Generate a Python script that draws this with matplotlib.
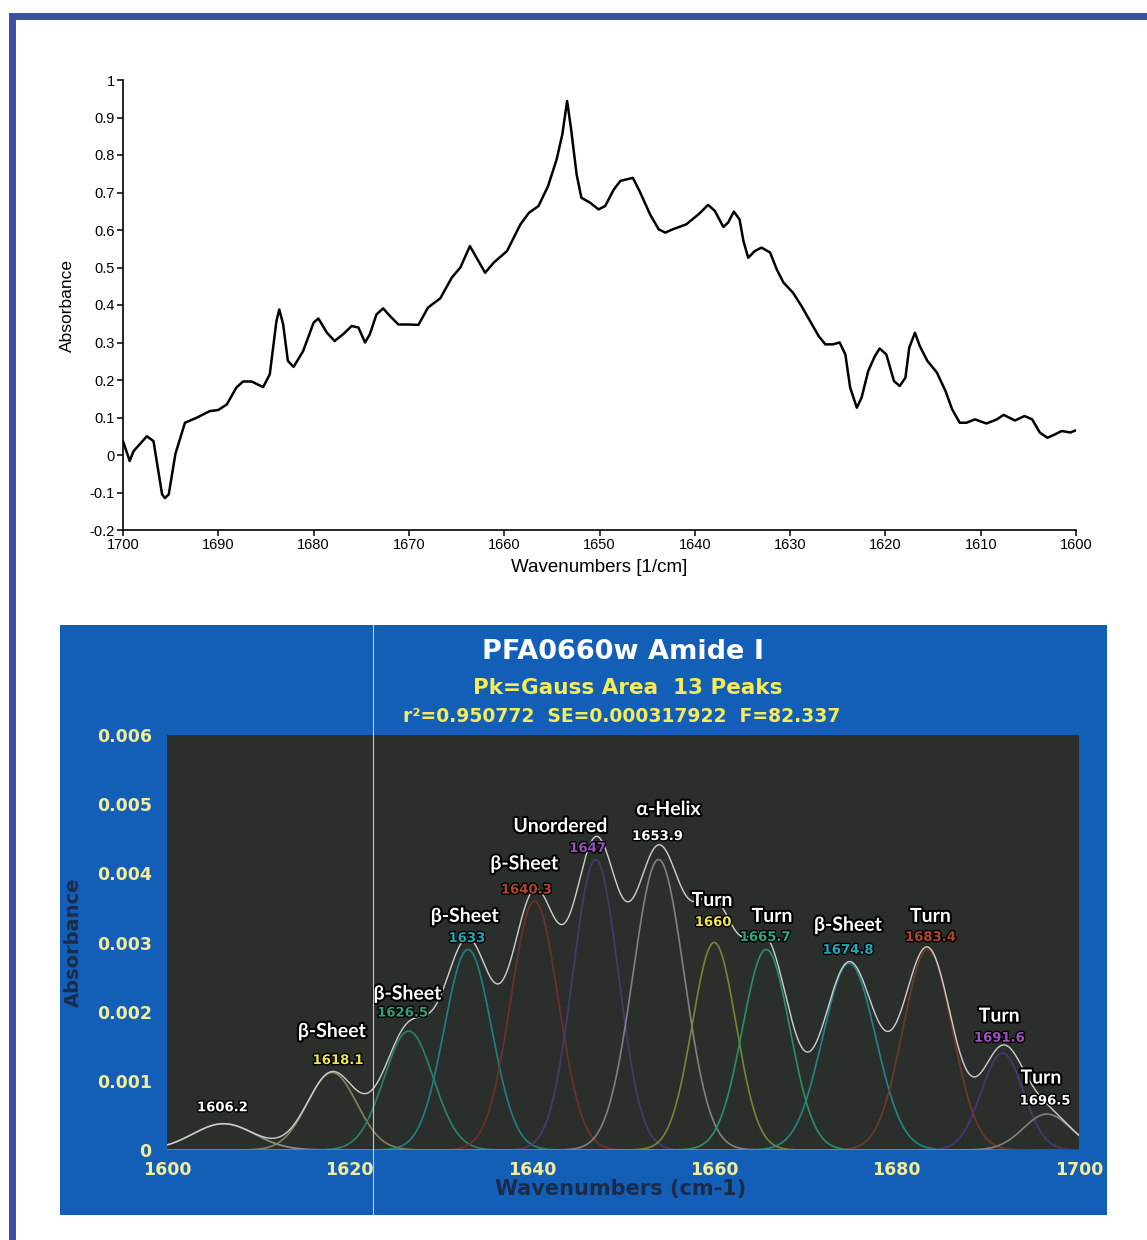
import numpy as np
import matplotlib
matplotlib.use('Agg')
import matplotlib.pyplot as plt
import matplotlib.patheffects as pe
from matplotlib.patches import Rectangle
from matplotlib.lines import Line2D
from matplotlib.ticker import FuncFormatter

# --- measured amide I spectrum ---
wavenumber = [1700.0, 1699.3, 1698.9, 1697.5, 1696.8, 1695.9, 1695.6, 1695.2, 1694.5, 1693.5,
              1692.3, 1690.9, 1690.0, 1689.1, 1688.1, 1687.4, 1686.5, 1685.3, 1684.6, 1683.9,
              1683.6, 1683.2, 1682.7, 1682.1, 1681.1, 1680.0, 1679.5, 1678.6, 1677.8, 1676.9,
              1676.0, 1675.3, 1674.6, 1674.1, 1673.4, 1672.7, 1672.0, 1671.1, 1670.1, 1669.0,
              1668.0, 1666.7, 1665.5, 1664.6, 1663.6, 1662.9, 1662.0, 1661.1, 1659.7, 1658.3,
              1657.4, 1656.4, 1655.4, 1654.5, 1653.9, 1653.4, 1653.0, 1652.4, 1651.9, 1651.0,
              1650.1, 1649.4, 1648.5, 1647.8, 1646.5, 1645.8, 1644.7, 1643.8, 1643.1, 1642.3,
              1640.9, 1639.6, 1638.6, 1637.9, 1637.0, 1636.5, 1635.9, 1635.3, 1634.9, 1634.4,
              1633.7, 1633.0, 1632.1, 1631.4, 1630.7, 1629.7, 1628.8, 1627.9, 1627.0, 1626.3,
              1625.5, 1624.8, 1624.2, 1623.7, 1623.0, 1622.5, 1621.8, 1621.1, 1620.6, 1619.9,
              1619.1, 1618.5, 1617.9, 1617.5, 1616.9, 1616.4, 1615.6, 1614.6, 1613.7, 1613.0,
              1612.2, 1611.5, 1610.6, 1609.4, 1608.3, 1607.6, 1606.4, 1605.4, 1604.6, 1603.8,
              1603.0, 1602.2, 1601.5, 1600.6, 1600.0]
absorbance = [0.037, -0.016, 0.010, 0.050, 0.037, -0.105, -0.115, -0.105, 0.003, 0.086,
              0.099, 0.117, 0.120, 0.135, 0.180, 0.196, 0.196, 0.181, 0.215, 0.357,
              0.388, 0.349, 0.251, 0.235, 0.277, 0.353, 0.364, 0.326, 0.304, 0.322,
              0.344, 0.340, 0.300, 0.322, 0.375, 0.391, 0.371, 0.348, 0.348, 0.347,
              0.393, 0.418, 0.473, 0.500, 0.557, 0.526, 0.486, 0.513, 0.544, 0.615,
              0.646, 0.664, 0.717, 0.788, 0.855, 0.944, 0.873, 0.748, 0.686, 0.673,
              0.655, 0.664, 0.708, 0.731, 0.739, 0.704, 0.642, 0.602, 0.593, 0.602,
              0.615, 0.642, 0.667, 0.651, 0.608, 0.620, 0.649, 0.628, 0.571, 0.526,
              0.544, 0.553, 0.540, 0.495, 0.460, 0.433, 0.397, 0.357, 0.317, 0.295,
              0.295, 0.300, 0.268, 0.180, 0.126, 0.153, 0.224, 0.264, 0.284, 0.268,
              0.197, 0.184, 0.206, 0.286, 0.326, 0.291, 0.251, 0.220, 0.171, 0.122,
              0.086, 0.086, 0.095, 0.084, 0.095, 0.107, 0.092, 0.104, 0.095, 0.060,
              0.046, 0.055, 0.064, 0.060, 0.066]

# --- Gaussian peak fit (13 components) ---
peak_center = [1606.2, 1618.1, 1626.5, 1633.0, 1640.3, 1647.0, 1653.9,
               1660.0, 1665.7, 1674.8, 1683.4, 1691.6, 1696.5]
peak_height = [0.00038, 0.00112, 0.00172, 0.00290, 0.00360, 0.00420, 0.00420,
               0.00300, 0.00290, 0.00270, 0.00290, 0.00140, 0.00052]
peak_sigma = [3.4, 2.7, 2.7, 2.6, 2.6, 2.5, 2.8, 2.4, 2.6, 2.9, 2.7, 2.3, 2.6]
peak_assign = ['', 'β-Sheet', 'β-Sheet', 'β-Sheet', 'β-Sheet', 'Unordered', 'α-Helix',
               'Turn', 'Turn', 'β-Sheet', 'Turn', 'Turn', 'Turn']

fit_title = 'PFA0660w Amide I'
fit_subtitle = 'Pk=Gauss Area  13 Peaks'
fit_stats = 'r²=0.950772  SE=0.000317922  F=82.337'

# label styling per peak (pixel offsets from the peak top)
curve_colors = ['#9a9a9a', '#8c8c66', '#2e8b6e', '#1f8a8a', '#7a2e2a', '#4b3a7a', '#8a8a8a',
                '#7f8f3a', '#2e9a6a', '#1f8f8f', '#7a3a2a', '#4a3a80', '#8a8a8a']
num_colors = ['white', '#f0e650', '#2fa37a', '#22a6b6', '#b0452e', '#9650b8', 'white',
              '#f0e650', '#2aa884', '#22aabb', '#b5452e', '#a050c0', 'white']
name_off = [(0, 0), (0, 41), (-1, 37), (-3, 33), (-10, 37), (-35, 33), (10, 50),
            (-2, 42), (6, 33), (-1, 38), (3, 33), (-3, 37), (-6, 36)]
num_off = [(-1, 16), (6, 12), (-6, 18), (-1, 11), (-8, 11), (-8, 11), (-1, 23),
           (-1, 20), (-1, 12), (-1, 13), (3, 12), (-3, 15), (-2, 13)]

W, H = 1147, 1240


def fig_rect(x0, y0, x1, y1):
    # pixel box measured from the top-left corner -> figure fraction rect
    return [x0 / W, 1 - y1 / H, (x1 - x0) / W, (y1 - y0) / H]


fig = plt.figure(figsize=(W / 100, H / 100), dpi=100)
fig.patch.set_facecolor('white')

# outer frame
fig.add_artist(Rectangle((11.5 / W, -0.1), 1.2, 1.1 - 16 / H, transform=fig.transFigure,
                         fill=False, ec='#3c50a0', lw=5, zorder=20))

# ---------- top: raw spectrum ----------
ax1 = fig.add_axes(fig_rect(123, 80, 1076, 530))
ax1.plot(wavenumber, absorbance, color='black', lw=1.8,
         solid_joinstyle='round', solid_capstyle='round')
ax1.set_xlim(1700, 1600)
ax1.set_ylim(-0.2, 1.0)
ax1.set_xticks(np.arange(1700, 1599, -10))
ax1.set_yticks(np.round(np.arange(-0.2, 1.01, 0.1), 1))
ax1.yaxis.set_major_formatter(FuncFormatter(lambda v, _: f'{v:g}'))
for s in ['top', 'right']:
    ax1.spines[s].set_visible(False)
for s in ['left', 'bottom']:
    ax1.spines[s].set_linewidth(1.2)
ax1.tick_params(direction='out', length=4, width=1.1, labelsize=10.5, pad=2)
for lab in ax1.get_xticklabels() + ax1.get_yticklabels():
    lab.set_family('Liberation Sans')
ax1.set_xlabel('Wavenumbers [1/cm]', family='Liberation Sans', fontsize=13.5)
ax1.set_ylabel('Absorbance', family='Liberation Sans', fontsize=12.5)
ax1.xaxis.set_label_coords(0.5, -0.064)
ax1.yaxis.set_label_coords(-0.05, 0.5)

# ---------- bottom: peak fit panel ----------
bg = fig.add_axes(fig_rect(60, 625, 1107, 1215))
bg.set_facecolor('#135fb8')
bg.set_xticks([])
bg.set_yticks([])
for s in bg.spines.values():
    s.set_visible(False)

fig.text(623 / W, 1 - 652 / H, fit_title, color='white', fontsize=19.5,
         fontweight='bold', ha='center', va='center')
fig.text(628 / W, 1 - 688 / H, fit_subtitle, color='#f5ec5a', fontsize=15.5,
         fontweight='bold', ha='center', va='center')
fig.text(622 / W, 1 - 717 / H, fit_stats, color='#f5ec5a', fontsize=13.5,
         fontweight='bold', ha='center', va='center')

ax2 = fig.add_axes(fig_rect(167, 735, 1079, 1150))
ax2.set_facecolor('#2b2f2c')
ax2.set_xlim(1600, 1700)
ax2.set_ylim(0, 0.006)
ax2.set_xticks(np.arange(1600, 1701, 20))
ax2.set_yticks(np.arange(0, 0.0061, 0.001))
ax2.yaxis.set_major_formatter(FuncFormatter(lambda v, _: '0' if abs(v) < 1e-9 else f'{v:.3f}'))
for s in ax2.spines.values():
    s.set_visible(False)
ax2.tick_params(length=0, colors='#f3ec9a', labelsize=12.5, pad=8)
ax2.tick_params(axis='y', pad=11)
for lab in ax2.get_xticklabels() + ax2.get_yticklabels():
    lab.set_fontweight('bold')
ax2.set_xlabel('Wavenumbers (cm-1)', color='#1d2c46', fontsize=15, fontweight='bold')
ax2.set_ylabel('Absorbance', color='#1d2c46', fontsize=14, fontweight='bold')
ax2.xaxis.set_label_coords(0.497, -0.07)
ax2.yaxis.set_label_coords(-0.092, 0.5)

xs = np.linspace(1600, 1700, 1201)
total = np.zeros_like(xs)
for c, h, sg, col in zip(peak_center, peak_height, peak_sigma, curve_colors):
    g = h * np.exp(-(xs - c) ** 2 / (2 * sg ** 2))
    total += g
    ax2.plot(xs, g, color=col, lw=1.2, alpha=0.9)
ax2.plot(xs, total, color='#cfcfcf', lw=1.0)

outline = [pe.withStroke(linewidth=3, foreground='black')]
thin_outline = [pe.withStroke(linewidth=2, foreground='black')]
for i, (c, h) in enumerate(zip(peak_center, peak_height)):
    ax2.annotate(f'{c:g}', xy=(c, h), xytext=num_off[i], textcoords='offset pixels',
                 ha='center', va='center', fontsize=9.5, fontweight='bold',
                 color=num_colors[i], path_effects=thin_outline)
    if peak_assign[i]:
        ax2.annotate(peak_assign[i], xy=(c, h), xytext=name_off[i], textcoords='offset pixels',
                     ha='center', va='center', fontsize=14, fontweight='bold',
                     family=['Lato', 'DejaVu Sans'], color='white', path_effects=outline)

# thin cursor line across the fit panel
fig.add_artist(Line2D([373 / W, 373 / W], [1 - 625 / H, 1 - 1215 / H], transform=fig.transFigure,
                      color='#d8e6f5', lw=0.8, alpha=0.85, zorder=10))

fig.savefig('out.png', dpi=100)
